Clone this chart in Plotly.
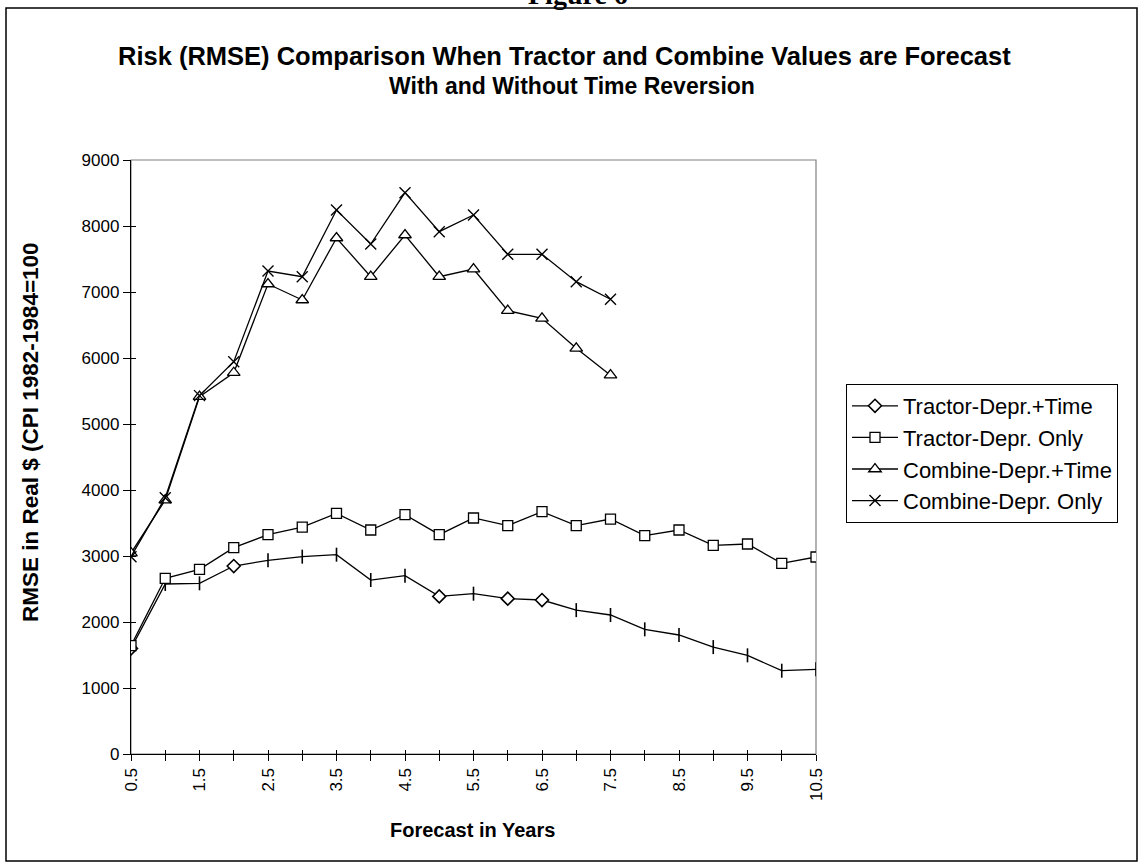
import plotly.graph_objects as go

# forecast horizon (years) and tick labels on the category-like axis
x_years = [0.5, 1.0, 1.5, 2.0, 2.5, 3.0, 3.5, 4.0, 4.5, 5.0, 5.5,
           6.0, 6.5, 7.0, 7.5, 8.0, 8.5, 9.0, 9.5, 10.0, 10.5]
x_tick_text = ["0.5", "", "1.5", "", "2.5", "", "3.5", "", "4.5", "", "5.5",
               "", "6.5", "", "7.5", "", "8.5", "", "9.5", "", "10.5"]

# RMSE values
tractor_time = [1600, 2576, 2586, 2848, 2934, 2990, 3020, 2636, 2702, 2388, 2429,
                2354, 2333, 2180, 2106, 1889, 1803, 1620, 1495, 1262, 1283]
tractor_only = [1641, 2662, 2798, 3126, 3323, 3439, 3646, 3394, 3626, 3323, 3576,
                3460, 3672, 3460, 3560, 3308, 3394, 3162, 3182, 2889, 2985]
combine_time = [3045, 3848, 5414, 5777, 7121, 6879, 7818, 7232, 7864, 7232, 7348,
                6717, 6601, 6147, 5740]
combine_only = [2990, 3884, 5430, 5944, 7318, 7232, 8242, 7727, 8505, 7914, 8167,
                7571, 7571, 7157, 6890]

series_names = ["Tractor-Depr.+Time", "Tractor-Depr. Only",
                "Combine-Depr.+Time", "Combine-Depr. Only"]

FONT = "Liberation Sans, Arial, sans-serif"

# in the scanned original most diamonds show up as short vertical bars
diamond_at = [0.5, 2.0, 5.0, 6.0, 6.5]
tt_symbols = ["diamond" if x in diamond_at else "line-ns" for x in x_years]

fig = go.Figure()

fig.add_trace(go.Scatter(
    x=x_years, y=tractor_time, name=series_names[0], legendgroup="a",
    mode="lines+markers", line=dict(color="black", width=1.3),
    marker=dict(symbol=tt_symbols, size=10, color="white",
                line=dict(color="black", width=1.6)),
))
fig.add_trace(go.Scatter(
    x=x_years, y=tractor_only, name=series_names[1], legendgroup="b",
    mode="lines+markers", line=dict(color="black", width=1.3),
    marker=dict(symbol="square", size=10, color="white",
                line=dict(color="black", width=1.3)),
))
fig.add_trace(go.Scatter(
    x=x_years[:len(combine_time)], y=combine_time, name=series_names[2], legendgroup="c",
    mode="lines+markers", line=dict(color="black", width=1.3),
    marker=dict(symbol="triangle-up", size=11, color="white",
                line=dict(color="black", width=1.3)),
))
# last series sits on the overlay axes, which carry the inner half of the tick marks
fig.add_trace(go.Scatter(
    x=x_years[:len(combine_only)], y=combine_only, name=series_names[3], legendgroup="d",
    mode="lines+markers", line=dict(color="black", width=1.3),
    marker=dict(symbol="x-thin", size=11, color="black",
                line=dict(color="black", width=1.4)),
    xaxis="x2", yaxis="y2",
))

# plot area is 685 x 594 px starting at (131, 160)
L, T, W, H = 131, 160, 685, 594


def px(xp):
    return (xp - L) / W


def py(yp):
    return (T + H - yp) / H


fig.update_layout(
    width=1143, height=867,
    margin=dict(l=L, r=1143 - L - W, t=T, b=867 - T - H),
    paper_bgcolor="white", plot_bgcolor="white",
    font=dict(family=FONT, color="black"),
    showlegend=True,
    legend=dict(
        x=px(846), y=py(384), xanchor="left", yanchor="top",
        bordercolor="black", borderwidth=1, bgcolor="white",
        font=dict(size=22, family=FONT), tracegroupgap=0, itemwidth=46,
    ),
    xaxis=dict(
        range=[0.5, 10.5], tickvals=x_years, ticktext=x_tick_text,
        tickangle=-90, ticks="outside", ticklen=6, tickwidth=1, tickcolor="black",
        showline=True, linecolor="black", linewidth=1.3,
        showgrid=False, zeroline=False, tickfont=dict(size=17),
    ),
    yaxis=dict(
        range=[0, 9000], dtick=1000, ticks="outside", ticklen=7, tickwidth=1,
        tickcolor="black", showline=True, linecolor="black", linewidth=1.3,
        showgrid=False, zeroline=False, tickfont=dict(size=17),
    ),
    xaxis2=dict(
        overlaying="x", matches="x", anchor="y2", range=[0.5, 10.5],
        tickvals=x_years, ticks="inside", ticklen=4, tickcolor="black",
        showticklabels=False, showline=False, showgrid=False, zeroline=False,
    ),
    yaxis2=dict(
        overlaying="y", matches="y", anchor="x2", range=[0, 9000], dtick=1000,
        ticks="inside", ticklen=5, tickcolor="black",
        showticklabels=False, showline=False, showgrid=False, zeroline=False,
    ),
    shapes=[
        # plot area border (grey top / right)
        dict(type="rect", xref="paper", yref="paper", x0=0, x1=1, y0=0, y1=1,
             line=dict(color="#808080", width=1.2), layer="below"),
        # outer chart border
        dict(type="rect", xref="paper", yref="paper",
             x0=px(6), x1=px(1137), y0=py(861), y1=py(8),
             line=dict(color="black", width=1.5)),
    ],
    annotations=[
        dict(text="<b>Figure 6</b>", xref="paper", yref="paper",
             x=px(578), y=py(12), xanchor="center", yanchor="bottom",
             showarrow=False, font=dict(family="Liberation Serif, Times New Roman, serif", size=28)),
        dict(text="<b>Risk (RMSE) Comparison When Tractor and Combine Values are Forecast</b>",
             xref="paper", yref="paper", x=px(564), y=py(56),
             xanchor="center", yanchor="middle", showarrow=False,
             font=dict(size=25.5)),
        dict(text="<b>With and Without Time Reversion</b>",
             xref="paper", yref="paper", x=px(572), y=py(86),
             xanchor="center", yanchor="middle", showarrow=False,
             font=dict(size=23)),
        dict(text="<b>RMSE in Real $ (CPI 1982-1984=100</b>",
             xref="paper", yref="paper", x=px(30), y=py(432),
             xanchor="center", yanchor="middle", textangle=-90, showarrow=False,
             font=dict(size=22.5)),
        dict(text="<b>Forecast in Years</b>",
             xref="paper", yref="paper", x=px(472), y=py(830),
             xanchor="center", yanchor="middle", showarrow=False,
             font=dict(size=20)),
    ],
)

# the page's default 8px body margin would shift the whole chart
fig.write_html("out.html", config={"displayModeBar": False},
               post_script="document.body.style.margin='0';")
